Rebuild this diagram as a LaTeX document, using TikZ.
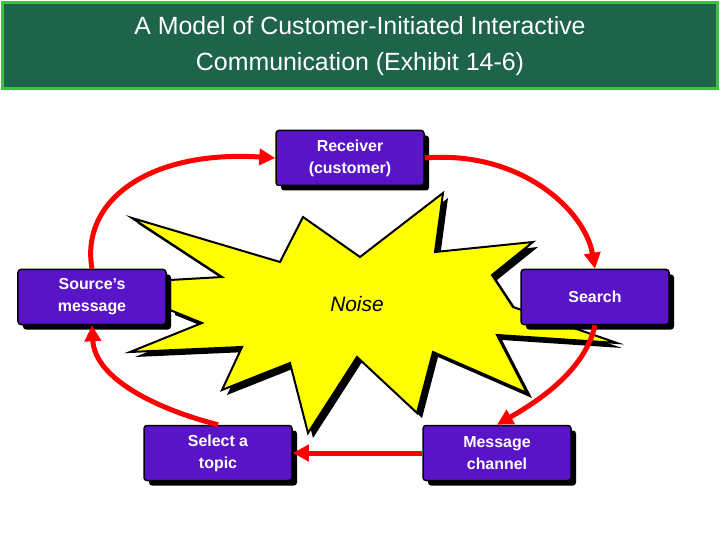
\documentclass[tikz,border=0pt]{standalone}
\usepackage{fontspec}
\setmainfont{Liberation Sans}
\usetikzlibrary{positioning}
\usetikzlibrary{arrows.meta}
\definecolor{banner}{RGB}{30,100,75}
\definecolor{boxfill}{RGB}{90,20,200}
\definecolor{noisefill}{RGB}{255,255,0}
\begin{document}
\begin{tikzpicture}[x=1bp,y=-1bp,
    stage/.style={
        rectangle,
        rounded corners=3bp,
        draw=black,
        line width=1.5bp,
        fill=boxfill,
        text=white,
        font=\bfseries\fontsize{16}{22}\selectfont,
        align=center,
        minimum width=148bp,
        minimum height=55bp,
        inner sep=1pt,
        },
    shadow/.style={
        rectangle,
        rounded corners=3bp,
        fill=black,
        minimum width=148bp,
        minimum height=55bp,
        },
    flow/.style={
        draw=red,
        line width=5bp,
        -{Triangle[length=16bp,width=16bp]},
        },
    ]

    \useasboundingbox (0,0) rectangle (720,540);

    % title
    \node [rectangle, draw=green!50!gray, line width=3bp, fill=banner,
        minimum width=714bp, minimum height=86bp, text=white, align=center,
        font=\fontsize{25}{37}\selectfont] (title) at (360,46)
        {A Model of Customer-Initiated Interactive\\Communication (Exhibit 14-6)};

    % noise
    \def\noisepath{(132,218) -- (280,262) -- (303,217) -- (360,257) -- (443,193)
        -- (435,252) -- (533,242) -- (492,275) -- (513,307) -- (617,343)
        -- (497,335) -- (527,393) -- (433,352) -- (417,413) -- (357,357)
        -- (308,433) -- (290,363) -- (222,390) -- (242,347) -- (130,352)
        -- (202,323) -- (170,310) -- (170,280) -- (222,277) -- cycle}
    \fill [black, shift={(5,5)}] \noisepath;
    \draw [black, line width=2bp, fill=noisefill] \noisepath;
    \node [font=\itshape\fontsize{21}{24}\selectfont] (noise) at (357,304) {Noise};

    % boxes
    \foreach \x/\y in {350/158, 92/297, 595/297, 218/453, 497/453}
        \node [shadow] at (\x+5,\y+5) {};
    \node [stage] (receiver) at (350,158) {Receiver\\(customer)};
    \node [stage] (source) at (92,297) {Source’s\\message};
    \node [stage] (search) at (595,297) {Search};
    \node [stage] (topic) at (218,453) {Select a\\topic};
    \node [stage] (channel) at (497,453) {Message\\channel};

    % cycle
    \draw [flow] (source.north) .. controls (80,200) and (150,150) .. (receiver.west);
    \draw [flow] (receiver.east) .. controls (520,150) and (585,210) .. (search.north);
    \draw [flow] (search.south) .. controls (585,370) and (540,400) .. (channel.north);
    \draw [flow] (channel.west) -- (topic.east);
    \draw [flow] (topic.north) .. controls (160,410) and (95,380) .. (source.south);

\end{tikzpicture}
\end{document}
